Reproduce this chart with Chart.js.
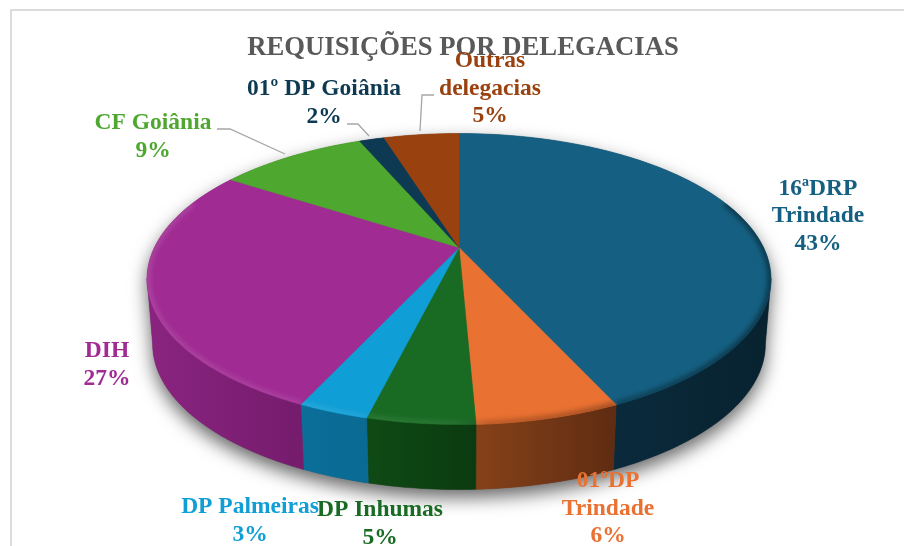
<!DOCTYPE html>
<html><head><meta charset="utf-8">
<style>html,body{margin:0;padding:0;background:#fff}#w{position:relative;width:904px;height:546px}</style>
<script src="https://cdn.jsdelivr.net/npm/chart.js@4"></script>
</head><body><div id="w"><canvas id="c" width="904" height="546"></canvas></div>
<script>
// --- data ---
const chartTitle = 'REQUISIÇÕES POR DELEGACIAS';
const categories = [['16ªDRP','Trindade'],['01ºDP','Trindade'],['DP Inhumas'],['DP Palmeiras'],['DIH'],['CF Goiânia'],['01º DP Goiânia'],['Outras','delegacias']];
const values = [43.2, 6.1, 4.55, 3, 27.35, 9.4, 1.6, 4.8];
// --- styles ---
const topColors = ['#156082','#E97132','#196B24','#0F9ED5','#A02B93','#4EA72E','#0D3A52','#99420F'];
const wallLeft  = ['#0a2a3c','#854119','#0f4a15','#0b6f9a','#8a2480','#3a7d22','#0a2c3e','#73310b'];
const wallRight = ['#08222f','#5f2c12','#0b3a10','#0a6a92','#751c6d','#3a7d22','#0a2c3e','#73310b'];
// --- layout ---
const labelCenters = [[818,188.5],[608,481],[380,510],[250,507],[107,351],[153,123],[324,89],[490,61]];
const leaders = [null,null,null,null,null,[[217,129],[230,129],[285,154]],[[347,124],[358,124],[369,136]],[[434,95],[422,95],[420,131]]];
const labelFont = 'bold 23.5px "Liberation Serif"';
const lineStep = 27.6;
const disc = {dx:-4, a:304.6, b:138.7, k:0.2165, depth:65, rim:0.982};

function proj(el,ang){
  const u=Math.cos(ang), v=Math.sin(ang), w=1-disc.k*v;
  return [el.x+disc.dx+disc.a*u/w, el.y+disc.b*v/w];
}
function rim(el,p){ // lower rim of the wall
  const cx=el.x+disc.dx;
  return [cx+(p[0]-cx)*disc.rim, p[1]+disc.depth];
}
function facePath(ctx,el){
  const n=Math.max(4,Math.ceil((el.endAngle-el.startAngle)*60));
  ctx.beginPath(); ctx.moveTo(el.x+disc.dx,el.y);
  for(let i=0;i<=n;i++){const p=proj(el,el.startAngle+(el.endAngle-el.startAngle)*i/n);ctx.lineTo(p[0],p[1]);}
  ctx.closePath();
}
Chart.ArcElement.prototype.draw=function(ctx){
  ctx.save(); facePath(ctx,this);
  ctx.fillStyle=this.options.backgroundColor; ctx.strokeStyle=this.options.backgroundColor; ctx.lineWidth=.6;
  ctx.fill(); ctx.stroke(); ctx.restore();
};
const solid={
  id:'solid',
  beforeDatasetsDraw(chart){
    const ctx=chart.ctx, els=chart.getDatasetMeta(0).data, c=els[0];
    const lo=Math.asin(disc.k), hi=Math.PI-lo;
    // body with drop shadow
    ctx.save(); ctx.beginPath();
    for(let i=0;i<=120;i++){const p=rim(c,proj(c,lo+(hi-lo)*i/120));ctx.lineTo(p[0],p[1]);}
    for(let i=0;i<=120;i++){const p=proj(c,hi+(2*Math.PI-(hi-lo))*i/120);ctx.lineTo(p[0],p[1]);}
    ctx.closePath();
    ctx.shadowColor='rgba(0,0,0,.6)'; ctx.shadowBlur=18; ctx.shadowOffsetY=8; ctx.fillStyle='#555';
    ctx.fill(); ctx.restore();
    // outer wall of each slice
    els.forEach((el,i)=>{
      const a0=Math.max(el.startAngle,lo), a1=Math.min(el.endAngle,hi);
      if(a1<=a0) return;
      const n=Math.ceil((a1-a0)*60), pts=[];
      for(let j=0;j<=n;j++) pts.push(proj(el,a0+(a1-a0)*j/n));
      const g=ctx.createLinearGradient(Math.min(pts[0][0],pts[n][0]),0,Math.max(pts[0][0],pts[n][0]),0);
      g.addColorStop(0,wallLeft[i]); g.addColorStop(1,wallRight[i]);
      ctx.beginPath();
      pts.forEach(p=>ctx.lineTo(p[0],p[1]-1));
      pts.slice().reverse().forEach(p=>{const q=rim(el,p);ctx.lineTo(q[0],q[1]);});
      ctx.closePath(); ctx.fillStyle=g; ctx.strokeStyle=g; ctx.lineWidth=.5; ctx.fill(); ctx.stroke();
    });
  },
  afterDatasetsDraw(chart){
    const ctx=chart.ctx, els=chart.getDatasetMeta(0).data;
    const g=ctx.createLinearGradient(147,0,771,0);
    g.addColorStop(0,'rgba(255,255,255,.12)');
    g.addColorStop(.45,'rgba(255,255,255,.08)');
    g.addColorStop(.55,'rgba(0,0,0,.2)');
    g.addColorStop(1,'rgba(0,0,0,.42)');
    els.forEach(el=>{
      const lo=-0.35, hi=Math.PI+0.35;
      const a0=Math.max(el.startAngle,lo), a1=Math.min(el.endAngle,hi);
      if(a1<=a0) return;
      ctx.save(); facePath(ctx,el); ctx.clip();
      ctx.filter='blur(2.5px)'; ctx.strokeStyle=g; ctx.lineWidth=7;
      ctx.beginPath();
      const n=Math.ceil((a1-a0)*60);
      for(let j=0;j<=n;j++){const p=proj(el,a0+(a1-a0)*j/n);ctx.lineTo(p[0],p[1]);}
      ctx.stroke(); ctx.restore();
    });
  }
};
const frame={
  id:'frame',
  beforeDraw(chart){
    const ctx=chart.ctx; ctx.save(); ctx.strokeStyle='#dcdcdc'; ctx.lineWidth=2;
    ctx.beginPath(); ctx.moveTo(11,546); ctx.lineTo(11,10); ctx.lineTo(904,10); ctx.stroke(); ctx.restore();
  }
};
const sliceLabels={
  id:'sliceLabels',
  afterDraw(chart){
    const ctx=chart.ctx; const total=values.reduce((s,v)=>s+v,0);
    ctx.save();
    leaders.forEach(l=>{
      if(!l) return;
      ctx.strokeStyle='#a6a6a6'; ctx.lineWidth=1.3; ctx.beginPath();
      l.forEach(p=>ctx.lineTo(p[0],p[1])); ctx.stroke();
    });
    ctx.font=labelFont; ctx.textAlign='center'; ctx.textBaseline='middle';
    categories.forEach((lines,i)=>{
      ctx.fillStyle=topColors[i];
      const all=lines.concat([Math.round(values[i]/total*100)+'%']);
      all.forEach((t,j)=>ctx.fillText(t,labelCenters[i][0],labelCenters[i][1]+j*lineStep));
    });
    ctx.restore();
  }
};
new Chart(document.getElementById('c'),{
  type:'pie',
  data:{labels:categories.map(c=>c.join(' ')),datasets:[{data:values,backgroundColor:topColors,borderWidth:0}]},
  plugins:[frame,solid,sliceLabels],
  options:{
    responsive:false,animation:false,
    events:[],
    layout:{padding:{left:22,right:0,top:0,bottom:115}},
    plugins:{
      legend:{display:false},tooltip:{enabled:false},
      title:{display:true,text:chartTitle,color:'#595959',
        font:{family:'"Liberation Serif"',size:26.7,weight:'bold'},
        padding:{top:32,bottom:0}}
    }
  }
});
</script></body></html>
